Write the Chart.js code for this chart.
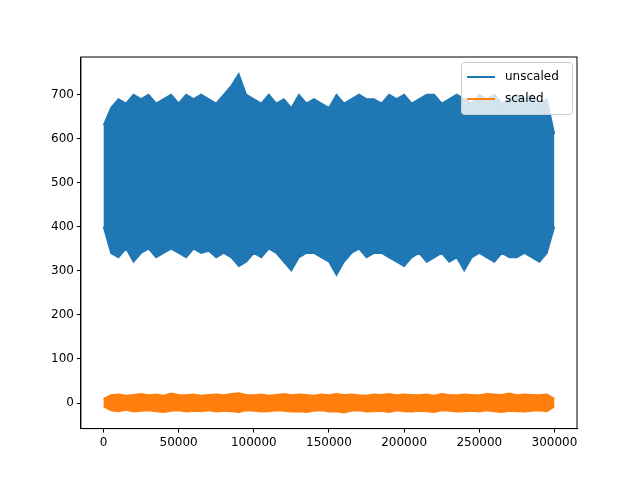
<!DOCTYPE html>
<html>
<head>
<script src="https://cdn.jsdelivr.net/npm/chart.js@4"></script>
<style>body{margin:0;background:#fff}#wrap{width:640px;height:480px}</style>
</head>
<body>
<div id="wrap"><canvas id="c"></canvas></div>
<script>
// sample positions (every 5000 steps)
const xs = [];
for (let i = 0; i <= 60; i++) xs.push(i * 5000);

// envelope of the unscaled signal
const unscaledHigh = [630,670,690,680,700,690,700,680,690,700,680,700,690,700,690,680,700,720,747,700,690,680,700,680,690,670,700,680,690,680,670,700,680,690,700,690,690,680,700,690,700,680,690,700,700,680,690,700,690,680,700,690,700,680,690,700,690,700,680,690,610];
const unscaledLow = [400,340,330,350,320,340,350,330,340,350,340,330,350,340,345,330,340,330,310,320,340,330,350,340,320,300,330,340,340,330,320,290,320,340,350,330,340,340,330,320,310,330,340,320,330,340,320,330,300,330,340,330,320,340,330,330,340,330,320,340,400];
// envelope of the scaled signal
const scaledHigh = [10,18,20,17,19,21,18,20,17,22,19,18,20,17,19,20,18,21,23,19,18,20,17,19,21,18,20,19,17,20,18,21,19,20,18,17,20,19,21,18,20,19,18,20,17,21,19,18,20,19,18,21,20,19,22,18,20,19,18,20,10];
const scaledLow = [-8,-17,-19,-16,-20,-18,-17,-19,-21,-18,-17,-20,-18,-19,-17,-20,-18,-19,-21,-17,-18,-20,-19,-17,-18,-20,-19,-21,-18,-17,-20,-19,-22,-18,-17,-20,-19,-18,-21,-17,-19,-20,-18,-19,-21,-17,-18,-20,-19,-18,-20,-17,-19,-21,-18,-19,-20,-18,-17,-19,-8];
const xTicks = [0,50000,100000,150000,200000,250000,300000];
const yTicks = [0,100,200,300,400,500,600,700];

const blue = '#1f77b4', orange = '#ff7f0e';
const pts = arr => arr.map((v, i) => ({x: xs[i], y: v}));

const legendBox = {
  id: 'legendBox',
  afterDraw(chart) {
    const {ctx, chartArea: a} = chart;
    const w = 111, h = 52, x = a.right - w - 5, y = a.top + 5;
    ctx.save();
    ctx.fillStyle = 'rgba(255,255,255,0.8)';
    ctx.strokeStyle = '#ccc';
    ctx.lineWidth = 1;
    ctx.beginPath();
    ctx.roundRect(x + 0.5, y + 0.5, w, h, 3);
    ctx.fill(); ctx.stroke();
    ctx.font = '12px "DejaVu Sans"';
    ctx.textBaseline = 'middle';
    [['unscaled', blue], ['scaled', orange]].forEach(([t, c], i) => {
      const ly = y + 15 + i * 22;
      ctx.strokeStyle = c; ctx.lineWidth = 2;
      ctx.beginPath(); ctx.moveTo(x + 6, ly); ctx.lineTo(x + 34, ly); ctx.stroke();
      ctx.fillStyle = '#000';
      ctx.fillText(t, x + 44, ly);
    });
    ctx.restore();
  }
};

const tickOpts = {color: '#000', font: {family: 'DejaVu Sans', size: 12}};
const gridOpts = {display: true, drawOnChartArea: false, drawTicks: true, tickLength: 4, color: '#000'};

new Chart(document.getElementById('c'), {
  type: 'line',
  data: {
    datasets: [
      {data: pts(unscaledHigh), borderColor: blue, borderWidth: 1.5, pointRadius: 0, fill: false},
      {data: pts(unscaledLow), borderColor: blue, borderWidth: 1.5, pointRadius: 0, fill: '-1', backgroundColor: blue},
      {data: pts(scaledHigh), borderColor: orange, borderWidth: 1.5, pointRadius: 0, fill: false},
      {data: pts(scaledLow), borderColor: orange, borderWidth: 1.5, pointRadius: 0, fill: '-1', backgroundColor: orange}
    ]
  },
  options: {
    responsive: true,
    maintainAspectRatio: false,
    animation: false,
    layout: {padding: {left: 48, right: 63, top: 57, bottom: 27}},
    plugins: {legend: {display: false}, tooltip: {enabled: false}},
    scales: {
      x: {
        type: 'linear', min: -15000, max: 315000,
        grid: gridOpts,
        border: {color: '#000'},
        afterBuildTicks: ax => { ax.ticks = xTicks.map(v => ({value: v})); },
        ticks: {...tickOpts, maxRotation: 0, callback: v => String(v)}
      },
      y: {
        min: -58, max: 785,
        grid: gridOpts,
        border: {color: '#000'},
        afterBuildTicks: ax => { ax.ticks = yTicks.map(v => ({value: v})); },
        ticks: tickOpts
      }
    }
  },
  plugins: [legendBox, {
    id: 'frame',
    afterDraw(chart) {
      const {ctx, chartArea: a} = chart;
      ctx.save(); ctx.strokeStyle = '#000'; ctx.lineWidth = 1;
      ctx.strokeRect(a.left, a.top, a.right - a.left, a.bottom - a.top);
      ctx.restore();
    }
  }]
});
</script>
</body>
</html>
